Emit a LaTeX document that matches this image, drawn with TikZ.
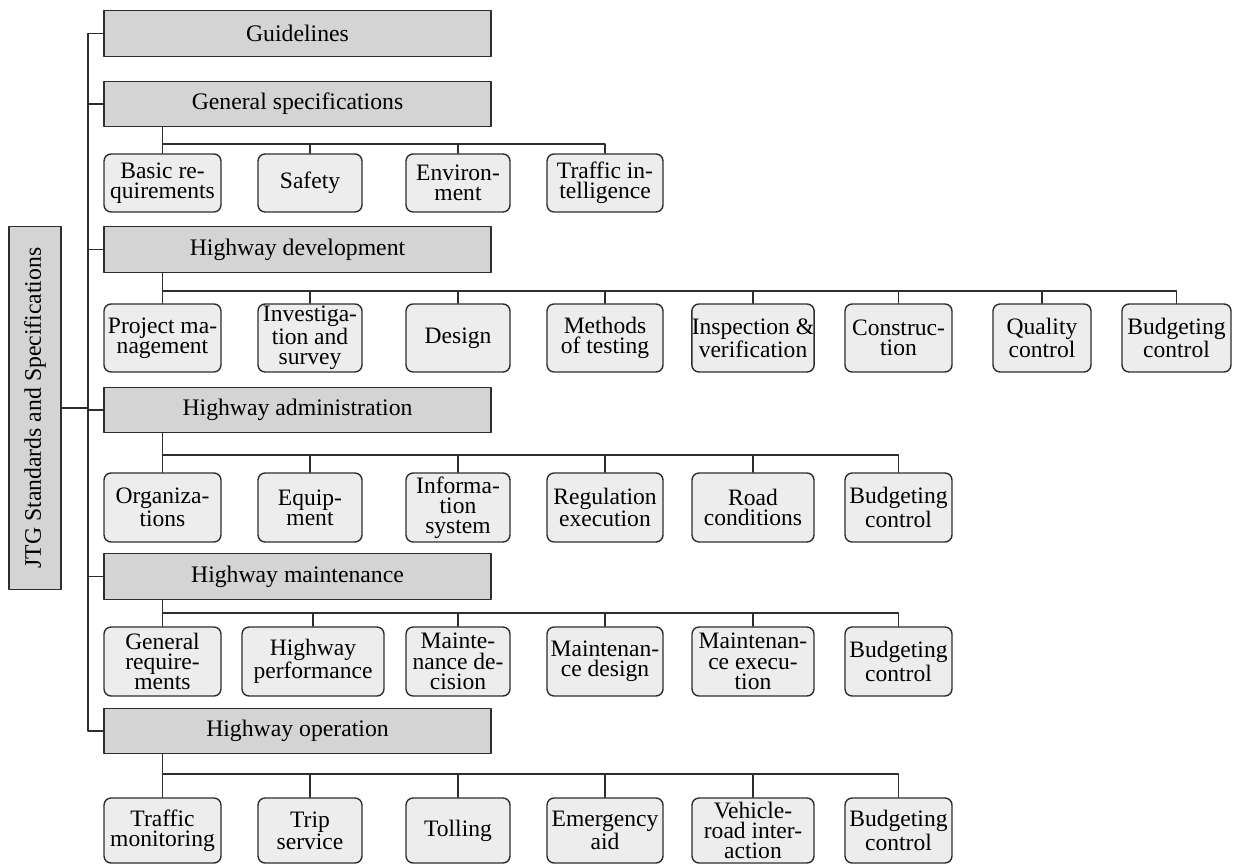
\documentclass[tikz,border=0pt]{standalone}
\usepackage{fontspec}
\setmainfont{Liberation Serif}
\definecolor{catgray}{RGB}{212,212,212}
\definecolor{leafgray}{RGB}{237,237,237}
\definecolor{edgegray}{RGB}{45,45,45}

\begin{document}
\begin{tikzpicture}[x=0.02cm,y=-0.02cm,line cap=round,line join=round,
  cat/.style={draw=edgegray,line width=0.8pt,fill=catgray,minimum width=7.74cm,minimum height=0.91cm,inner sep=0pt,font=\fontsize{13.5}{11.5}\selectfont},
  leaf/.style={draw=edgegray,line width=0.8pt,fill=leafgray,rounded corners=4pt,align=center,inner sep=0pt,minimum height=#1,font=\fontsize{13.4}{11.5}\selectfont},
  link/.style={draw=edgegray,line width=0.6pt}]
\useasboundingbox (0,0) rectangle (1237,864);
\coordinate (trunk) at (88,0);
\coordinate (gsbus) at (0,144);
\coordinate (devbus) at (0,291);
\coordinate (admbus) at (0,455);
\coordinate (mntbus) at (0,613);
\coordinate (oprbus) at (0,774);
\node[cat,rotate=90,minimum width=7.26cm,minimum height=1.04cm] (root) at (35,408) {JTG Standards and Specifications};
\node[cat] (guide) at (297.5,33.5) {Guidelines};
\node[cat] (gen) at (297.5,104) {General specifications};
\node[cat] (dev) at (297.5,249.5) {Highway development};
\node[cat] (adm) at (297.5,410) {Highway administration};
\node[cat] (mnt) at (297.5,576.5) {Highway maintenance};
\node[cat] (opr) at (297.5,731) {Highway operation};
\node[leaf=1.16cm,minimum width=2.34cm] (gs1) at (162.5,183) {Basic re-\\quirements};
\node[leaf=1.16cm,minimum width=2.08cm] (gs2) at (310,183) {Safety};
\node[leaf=1.16cm,minimum width=2.08cm] (gs3) at (458,183) {Environ-\\ment};
\node[leaf=1.16cm,minimum width=2.32cm] (gs4) at (605,183) {Traffic in-\\telligence};
\node[leaf=1.36cm,minimum width=2.34cm] (dev1) at (162.5,338) {Project ma-\\nagement};
\node[leaf=1.36cm,minimum width=2.08cm] (dev2) at (310,338) {Investiga-\\tion and\\survey};
\node[leaf=1.36cm,minimum width=2.08cm] (dev3) at (458,338) {Design};
\node[leaf=1.36cm,minimum width=2.32cm] (dev4) at (605,338) {Methods\\of testing};
\node[leaf=1.36cm,minimum width=2.44cm] (dev5) at (753,338) {Inspection \&\\verification};
\node[leaf=1.36cm,minimum width=2.14cm] (dev6) at (898.5,338) {Construc-\\tion};
\node[leaf=1.36cm,minimum width=1.96cm] (dev7) at (1042,338) {Quality\\control};
\node[leaf=1.36cm,minimum width=2.18cm] (dev8) at (1176.5,338) {Budgeting\\control};
\node[leaf=1.38cm,minimum width=2.34cm] (adm1) at (162.5,507.5) {Organiza-\\tions};
\node[leaf=1.38cm,minimum width=2.08cm] (adm2) at (310,507.5) {Equip-\\ment};
\node[leaf=1.38cm,minimum width=2.08cm] (adm3) at (458,507.5) {Informa-\\tion\\system};
\node[leaf=1.38cm,minimum width=2.32cm] (adm4) at (605,507.5) {Regulation\\execution};
\node[leaf=1.38cm,minimum width=2.44cm] (adm5) at (753,507.5) {Road\\conditions};
\node[leaf=1.38cm,minimum width=2.14cm] (adm6) at (898.5,507.5) {Budgeting\\control};
\node[leaf=1.38cm,minimum width=2.34cm] (mnt1) at (162.5,661.5) {General\\require-\\ments};
\node[leaf=1.38cm,minimum width=2.84cm] (mnt2) at (313,661.5) {Highway\\performance};
\node[leaf=1.38cm,minimum width=2.08cm] (mnt3) at (458,661.5) {Mainte-\\nance de-\\cision};
\node[leaf=1.38cm,minimum width=2.32cm] (mnt4) at (605,661.5) {Maintenan-\\ce design};
\node[leaf=1.38cm,minimum width=2.44cm] (mnt5) at (753,661.5) {Maintenan-\\ce execu-\\tion};
\node[leaf=1.38cm,minimum width=2.14cm] (mnt6) at (898.5,661.5) {Budgeting\\control};
\node[leaf=1.3cm,minimum width=2.34cm] (opr1) at (162.5,830.5) {Traffic\\monitoring};
\node[leaf=1.3cm,minimum width=2.08cm] (opr2) at (310,830.5) {Trip\\service};
\node[leaf=1.3cm,minimum width=2.08cm] (opr3) at (458,830.5) {Tolling};
\node[leaf=1.3cm,minimum width=2.32cm] (opr4) at (605,830.5) {Emergency\\aid};
\node[leaf=1.3cm,minimum width=2.44cm] (opr5) at (753,830.5) {Vehicle-\\road inter-\\action};
\node[leaf=1.3cm,minimum width=2.14cm] (opr6) at (898.5,830.5) {Budgeting\\control};
\draw[link] (guide.west) -- (guide.west -| trunk) -- (opr.west -| trunk) -- (opr.west);
\draw[link] (gen.west) -- (gen.west -| trunk);
\draw[link] (dev.west) -- (dev.west -| trunk);
\draw[link] (adm.west) -- (adm.west -| trunk);
\draw[link] (mnt.west) -- (mnt.west -| trunk);
\draw[link] (root.south) -- (root.south -| trunk);
\draw[link] (gen.south -| gs1) -- (gs1.north);
\draw[link] (gs1 |- gsbus) -| (gs2.north);
\draw[link] (gs2 |- gsbus) -| (gs3.north);
\draw[link] (gs3 |- gsbus) -| (gs4.north);
\draw[link] (dev.south -| dev1) -- (dev1.north);
\draw[link] (dev1 |- devbus) -| (dev2.north);
\draw[link] (dev2 |- devbus) -| (dev3.north);
\draw[link] (dev3 |- devbus) -| (dev4.north);
\draw[link] (dev4 |- devbus) -| (dev5.north);
\draw[link] (dev5 |- devbus) -| (dev6.north);
\draw[link] (dev6 |- devbus) -| (dev7.north);
\draw[link] (dev7 |- devbus) -| (dev8.north);
\draw[link] (adm.south -| adm1) -- (adm1.north);
\draw[link] (adm1 |- admbus) -| (adm2.north);
\draw[link] (adm2 |- admbus) -| (adm3.north);
\draw[link] (adm3 |- admbus) -| (adm4.north);
\draw[link] (adm4 |- admbus) -| (adm5.north);
\draw[link] (adm5 |- admbus) -| (adm6.north);
\draw[link] (mnt.south -| mnt1) -- (mnt1.north);
\draw[link] (mnt1 |- mntbus) -| (mnt2.north);
\draw[link] (mnt2 |- mntbus) -| (mnt3.north);
\draw[link] (mnt3 |- mntbus) -| (mnt4.north);
\draw[link] (mnt4 |- mntbus) -| (mnt5.north);
\draw[link] (mnt5 |- mntbus) -| (mnt6.north);
\draw[link] (opr.south -| opr1) -- (opr1.north);
\draw[link] (opr1 |- oprbus) -| (opr2.north);
\draw[link] (opr2 |- oprbus) -| (opr3.north);
\draw[link] (opr3 |- oprbus) -| (opr4.north);
\draw[link] (opr4 |- oprbus) -| (opr5.north);
\draw[link] (opr5 |- oprbus) -| (opr6.north);
\end{tikzpicture}
\end{document}
